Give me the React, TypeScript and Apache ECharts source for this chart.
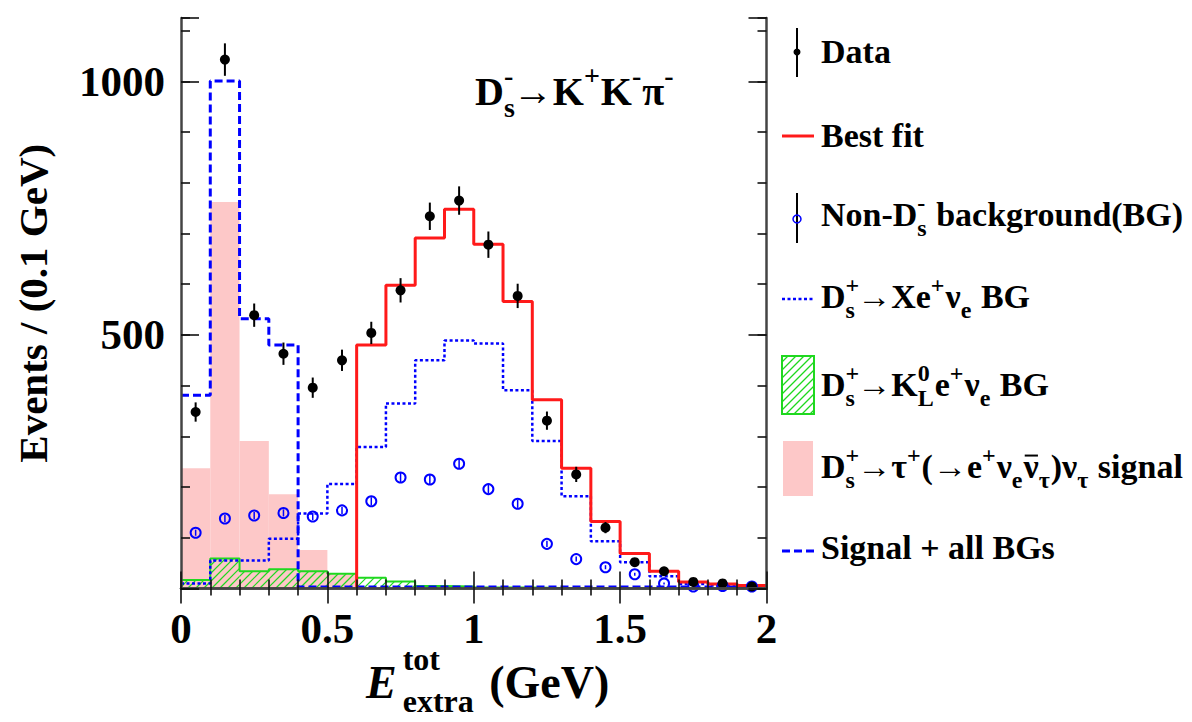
import React, { useEffect, useRef } from 'react';
import * as echarts from 'echarts';

// ---------- data ----------
const binEdges = [0, 0.1, 0.2, 0.3, 0.4, 0.5, 0.6, 0.7, 0.8, 0.9, 1.0, 1.1, 1.2, 1.3, 1.4, 1.5, 1.6, 1.7, 1.8, 1.9, 2.0];
const dataCounts = [348, 1043, 539, 463, 396, 450, 504, 588, 734, 765, 678, 577, 331, 225, 120, 52, 34, 13, 10, 4];
const dataErrors = [19, 32, 23, 22, 20, 21, 22, 24, 27, 28, 26, 24, 18, 15, 11, 7, 6, 4, 3, 2];
const bestFit: (number | null)[] = [null, null, null, null, null, null, 480, 598, 691, 748, 679, 566, 372, 237, 132, 69, 34, 13, 9, 6];
const nonDsBG = [110, 138, 144, 149, 142, 154, 172, 219, 215, 246, 196, 167, 88, 58, 42, 28, 10, 4, 5, 4];
const nonDsErrors = [6, 7, 7, 7, 7, 7, 8, 9, 9, 10, 9, 8, 6, 5, 4, 3, 2, 1, 1, 1];
const xeBG = [10, 55, 55, 98, 148, 206, 279, 365, 450, 489, 483, 391, 291, 182, 93, 52, 24, 9, 6, 4];
const klBG = [17, 59, 34, 38, 34, 29, 21, 14, 5, 4, 2, 2, 1, 0, 0, 0, 0, 0, 0, 0];
const tauSignal = [237, 762, 291, 186, 76, 28, 0, 0, 0, 0, 0, 0, 0, 0, 0, 0, 0, 0, 0, 0];
const signalPlusBGs = [381, 1001, 532, 480, 3, 3, 3, 3, 3, 3, 3, 3, 3, 3, 3, 3, 3, 3, 3, 3];
const xTickLabels = ['0', '0.5', '1', '1.5', '2'];
const yTickLabels = ['500', '1000'];

// ---------- style ----------
const FONT = 'Liberation Serif';
const BLUE = '#0000ff';
const RED = '#ff1a1a';
const GREEN = '#1fd81f';
const PINK = '#fdc8c8';
const FRAME = '#444';

type Tok = { t?: string; sup?: string; sub?: string; bar?: boolean; italic?: boolean; weight?: string; dx?: number; gap?: number };

function stepData(values: (number | null)[]) {
  const pts: number[][] = [];
  let first = true;
  let lastIdx = -1;
  values.forEach((v, i) => {
    if (v == null) return;
    if (first && binEdges[i] > 0) pts.push([binEdges[i], 0]);
    first = false;
    pts.push([binEdges[i], v]);
    lastIdx = i;
  });
  pts.push([binEdges[lastIdx + 1], values[lastIdx] as number]);
  return pts;
}

function hatchLines(x0: number, y0: number, x1: number, y1: number, step: number) {
  const out: number[][] = [];
  const cStart = Math.ceil((x0 + y0) / step) * step;
  for (let c = cStart; c <= x1 + y1; c += step) {
    const yA = Math.max(y0, c - x1);
    const yB = Math.min(y1, c - x0);
    if (yB - yA > 0.5) out.push([c - yA, yA, c - yB, yB]);
  }
  return out;
}

export default function App() {
  const ref = useRef<HTMLDivElement>(null);
  useEffect(() => {
    const el = ref.current!;
    const chart = echarts.init(el, null, { renderer: 'svg' });
    const ctx = document.createElement('canvas').getContext('2d')!;
    const measure = (text: string, size: number, weight: string, style: string) => {
      ctx.font = `${style} ${weight} ${size}px "${FONT}"`;
      return ctx.measureText(text).width;
    };
    const textEl = (text: string, x: number, base: number, size: number, weight: string, style: string, fill: string) => ({
      type: 'text',
      x,
      y: base - size * 0.3375,
      silent: true,
      style: {
        text,
        fontSize: size,
        fontFamily: FONT,
        fontWeight: weight,
        fontStyle: style,
        fill,
        textAlign: 'left',
        textVerticalAlign: 'middle',
      },
    });
    const mathLine = (toks: Tok[], x0: number, base: number, size: number, o: any = {}) => {
      const fill = o.fill ?? '#000';
      const scale = o.scale ?? 0.7;
      const supDy = o.supDy ?? 0.45;
      const subDy = o.subDy ?? 0.28;
      const weight = o.weight ?? 'bold';
      const ss = Math.round(size * scale);
      const els: any[] = [];
      let x = x0;
      for (const k of toks) {
        x += k.dx ?? 0;
        if (k.t !== undefined) {
          const st = k.italic ? 'italic' : 'normal';
          const wt = k.weight ?? weight;
          els.push(textEl(k.t, x, base, size, wt, st, fill));
          const w = measure(k.t, size, wt, st);
          if (k.bar) {
            els.push({
              type: 'line',
              silent: true,
              shape: { x1: x + w * 0.08, y1: base - size * 0.66, x2: x + w * 0.95, y2: base - size * 0.66 },
              style: { stroke: fill, lineWidth: 2 },
            });
          }
          x += w;
        } else {
          let w = 0;
          if (k.sup) {
            els.push(textEl(k.sup, x, base - size * supDy, ss, weight, 'normal', fill));
            w = Math.max(w, measure(k.sup, ss, weight, 'normal'));
          }
          if (k.sub) {
            els.push(textEl(k.sub, x, base + size * subDy, ss, weight, 'normal', fill));
            w = Math.max(w, measure(k.sub, ss, weight, 'normal'));
          }
          x += w + (k.gap ?? 1);
        }
      }
      return els;
    };

    const lowEdges = binEdges.slice(0, -1);
    const centers = lowEdges.map((lo, i) => (lo + binEdges[i + 1]) / 2);

    const rectRender = (fill: string) => (params: any, api: any) => {
      const lo = api.value(0);
      const hi = api.value(1);
      const v = api.value(2);
      if (!(v > 0)) return null;
      const a = api.coord([lo, 0]);
      const b = api.coord([hi, v]);
      return {
        type: 'rect',
        shape: { x: a[0], y: b[1], width: b[0] - a[0], height: a[1] - b[1] },
        style: { fill },
      };
    };
    const hatchRender = (params: any, api: any) => {
      const lo = api.value(0);
      const hi = api.value(1);
      const v = api.value(2);
      if (!(v > 0)) return null;
      const a = api.coord([lo, 0]);
      const b = api.coord([hi, v]);
      const lines = hatchLines(a[0], b[1], b[0], a[1], 8);
      return {
        type: 'group',
        children: lines.map((l) => ({
          type: 'line',
          shape: { x1: l[0], y1: l[1], x2: l[2], y2: l[3] },
          style: { stroke: GREEN, lineWidth: 1.2 },
        })),
      };
    };
    const errRender = (color: string, width: number) => (params: any, api: any) => {
      const x = api.value(0);
      const v = api.value(1);
      const e = api.value(2);
      const a = api.coord([x, Math.max(0, v - e)]);
      const b = api.coord([x, v + e]);
      return {
        type: 'line',
        shape: { x1: a[0], y1: a[1], x2: b[0], y2: b[1] },
        style: { stroke: color, lineWidth: width },
      };
    };

    const labelStyle = { fontSize: 43, fontWeight: 'bold', fontFamily: FONT, color: '#000' };
    const xFmt = (v: number) => {
      const s = String(parseFloat(v.toFixed(4)));
      return xTickLabels.includes(s) ? s : '';
    };
    const yFmt = (v: number) => {
      const s = String(Math.round(v));
      return yTickLabels.includes(s) ? s : '';
    };
    const line = { show: true, lineStyle: { color: FRAME, width: 2.5 } };
    const noLine = { show: false };
    const tick = (len: number) => ({ show: true, inside: true, length: len, lineStyle: { color: '#111', width: 1.6 } });

    const xAxisBase = { type: 'value', min: 0, max: 2, interval: 0.5, splitLine: { show: false }, z: 10 };
    const yAxisBase = { type: 'value', min: 0, max: 1125, splitLine: { show: false }, z: 10 };

    // ---------- legend & text graphics ----------
    const LX = 821;
    const LS = 34;
    const graphics: any[] = [];
    // annotation
    graphics.push(
      ...mathLine(
        [{ t: 'D' }, { sup: '-', sub: 's', gap: -2 }, { t: '→K' }, { sup: '+' }, { t: 'K' }, { sup: '-' }, { t: 'π' }, { sup: '-' }],
        475, 105, 40, { supDy: 0.5, subDy: 0.3 }
      )
    );
    // x axis title
    graphics.push(
      ...mathLine(
        [{ t: 'E', italic: true }, { sup: 'tot', sub: 'extra', dx: 6 }, { t: ' (GeV)', dx: 3 }],
        366, 698, 46, { supDy: 0.62, subDy: 0.29, scale: 0.7 }
      )
    );
    // legend entries
    const entries: Tok[][] = [
      [{ t: 'Data' }],
      [{ t: 'Best fit' }],
      [{ t: 'Non-D' }, { sup: '-', sub: 's' }, { t: ' background(BG)' }],
      [{ t: 'D' }, { sup: '+', sub: 's', gap: -2 }, { t: '→Xe' }, { sup: '+' }, { t: 'ν' }, { sub: 'e' }, { t: ' BG' }],
      [{ t: 'D' }, { sup: '+', sub: 's', gap: -2 }, { t: '→K' }, { sup: '0', sub: 'L' }, { t: 'e' }, { sup: '+' }, { t: 'ν' }, { sub: 'e' }, { t: ' BG' }],
      [
        { t: 'D' }, { sup: '+', sub: 's', gap: -2 }, { t: '→τ' }, { sup: '+' }, { t: '(→e' }, { sup: '+' }, { t: 'ν' }, { sub: 'e' },
        { t: 'ν', bar: true }, { sub: 'τ' }, { t: ')ν' }, { sub: 'τ' }, { t: ' signal' },
      ],
      [{ t: 'Signal + all BGs' }],
    ];
    const baselines = [63, 147, 226, 308, 396, 478, 559];
    entries.forEach((toks, i) => graphics.push(...mathLine(toks, LX, baselines[i], LS, { supDy: 0.45, subDy: 0.3 })));
    // legend markers
    graphics.push(
      { type: 'line', shape: { x1: 797, y1: 28, x2: 797, y2: 77 }, style: { stroke: '#000', lineWidth: 2 } },
      { type: 'circle', shape: { cx: 797, cy: 52, r: 3.5 }, style: { fill: '#000' } },
      { type: 'line', shape: { x1: 782, y1: 136, x2: 814, y2: 136 }, style: { stroke: RED, lineWidth: 3 } },
      { type: 'line', shape: { x1: 797, y1: 193, x2: 797, y2: 243 }, style: { stroke: '#000', lineWidth: 2 } },
      { type: 'circle', shape: { cx: 797, cy: 219, r: 4 }, style: { fill: 'rgba(0,0,0,0)', stroke: BLUE, lineWidth: 1.5 } },
      { type: 'line', shape: { x1: 782, y1: 299, x2: 814, y2: 299 }, style: { stroke: BLUE, lineWidth: 2.5, lineDash: [3, 2.5] } },
      { type: 'rect', shape: { x: 783, y: 441, width: 30, height: 55 }, style: { fill: PINK } },
      { type: 'line', shape: { x1: 782, y1: 551, x2: 814, y2: 551 }, style: { stroke: BLUE, lineWidth: 3, lineDash: [8, 4] } }
    );
    hatchLines(782, 356, 814, 414, 8).forEach((l) =>
      graphics.push({ type: 'line', shape: { x1: l[0], y1: l[1], x2: l[2], y2: l[3] }, style: { stroke: GREEN, lineWidth: 1.2 } })
    );
    graphics.push({ type: 'rect', shape: { x: 782, y: 356, width: 32, height: 58 }, style: { fill: 'rgba(0,0,0,0)', stroke: GREEN, lineWidth: 2 } });

    const rectRows = (vals: number[]) => vals.map((v, i) => [binEdges[i], binEdges[i + 1], v]);

    const option: any = {
      animation: false,
      backgroundColor: '#fff',
      grid: { left: 181, top: 18, width: 585.5, height: 570.5, containLabel: false, outerBoundsMode: 'none' },
      xAxis: [
        {
          ...xAxisBase,
          position: 'bottom',
          axisLine: line,
          axisTick: tick(17),
          minorTick: { show: true, splitNumber: 5, length: 9, lineStyle: { color: '#111', width: 1.6 } },
          axisLabel: { ...labelStyle, margin: 18, formatter: xFmt },
        },
        {
          ...xAxisBase,
          position: 'top',
          axisLine: line,
          axisTick: tick(15),
          minorTick: { show: true, splitNumber: 5, length: 7, lineStyle: { color: '#111', width: 1.6 } },
          axisLabel: { show: false },
        },
      ],
      yAxis: [
        {
          ...yAxisBase,
          interval: 100,
          position: 'left',
          axisLine: line,
          axisTick: tick(9),
          axisLabel: { ...labelStyle, margin: 16, formatter: yFmt },
          name: 'Events / (0.1 GeV)',
          nameLocation: 'middle',
          nameRotate: 90,
          nameGap: 128,
          nameMoveOverlap: false,
          nameTextStyle: { fontSize: 41, fontWeight: 'bold', fontFamily: FONT, color: '#000' },
        },
        { ...yAxisBase, interval: 500, position: 'left', axisLine: noLine, axisTick: tick(18), axisLabel: { show: false } },
        { ...yAxisBase, interval: 100, position: 'right', axisLine: line, axisTick: tick(9), axisLabel: { show: false } },
        { ...yAxisBase, interval: 500, position: 'right', axisLine: noLine, axisTick: tick(18), axisLabel: { show: false } },
      ],
      graphic: graphics,
      series: [
        {
          name: 'D_s^+ → τ^+(→e^+ν_e ν̄_τ)ν_τ signal',
          type: 'custom',
          renderItem: rectRender(PINK),
          data: rectRows(tauSignal),
          encode: { x: [0, 1], y: 2 },
          z: 1,
        },
        {
          name: 'D_s^+ → K_L^0 e^+ν_e BG (hatch)',
          type: 'custom',
          renderItem: hatchRender,
          data: rectRows(klBG),
          encode: { x: [0, 1], y: 2 },
          z: 2,
        },
        {
          name: 'D_s^+ → K_L^0 e^+ν_e BG',
          type: 'line',
          step: 'end',
          symbol: 'none',
          data: stepData(klBG),
          lineStyle: { color: GREEN, width: 2 },
          z: 3,
        },
        {
          name: 'D_s^+ → Xe^+ν_e BG',
          type: 'line',
          step: 'end',
          symbol: 'none',
          data: stepData(xeBG),
          lineStyle: { color: BLUE, width: 2.5, type: [3, 2.5] },
          z: 4,
        },
        {
          name: 'Signal + all BGs',
          type: 'line',
          step: 'end',
          symbol: 'none',
          data: stepData(signalPlusBGs),
          lineStyle: { color: BLUE, width: 3, type: [8, 4] },
          z: 5,
        },
        {
          name: 'Best fit',
          type: 'line',
          step: 'end',
          symbol: 'none',
          data: stepData(bestFit),
          lineStyle: { color: RED, width: 3 },
          z: 6,
        },
        {
          name: 'Non-D_s^- background errors',
          type: 'custom',
          renderItem: errRender(BLUE, 1.5),
          data: centers.map((c, i) => [c, nonDsBG[i], nonDsErrors[i]]),
          z: 7,
        },
        {
          name: 'Non-D_s^- background(BG)',
          type: 'scatter',
          symbol: 'circle',
          symbolSize: 10,
          data: centers.map((c, i) => [c, nonDsBG[i]]),
          itemStyle: { color: 'rgba(0,0,0,0)', borderColor: BLUE, borderWidth: 2, opacity: 1 },
          z: 8,
        },
        {
          name: 'Data errors',
          type: 'custom',
          renderItem: errRender('#000', 2),
          data: centers.map((c, i) => [c, dataCounts[i], dataErrors[i]]),
          z: 9,
        },
        {
          name: 'Data',
          type: 'scatter',
          symbol: 'circle',
          symbolSize: 10,
          data: centers.map((c, i) => [c, dataCounts[i]]),
          itemStyle: { color: '#000', opacity: 1 },
          z: 9,
        },
      ],
    };
    chart.setOption(option);
    return () => chart.dispose();
  }, []);
  return <div ref={ref} style={{ position: 'fixed', left: 0, top: 0, width: 1192, height: 722, background: '#fff' }} />;
}
